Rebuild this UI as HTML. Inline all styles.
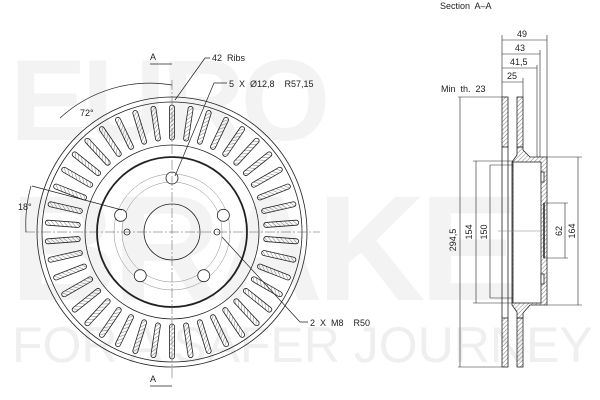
<!DOCTYPE html>
<html><head><meta charset="utf-8"><style>
html,body{margin:0;padding:0;background:#fff;width:600px;height:400px;overflow:hidden}
svg{display:block}
text{font-family:"Liberation Sans",sans-serif;fill:#222;white-space:pre}
</style></head><body>
<svg id="s" width="600" height="400" viewBox="0 0 600 400" xmlns="http://www.w3.org/2000/svg">
<defs>
<pattern id="h" width="3" height="3" patternUnits="userSpaceOnUse" patternTransform="rotate(45)">
<line x1="0" y1="0" x2="0" y2="3" stroke="#444" stroke-width="0.7"/></pattern>
</defs>
<g font-family="Liberation Sans" font-weight="bold">
<text x="10" y="140" font-size="115" style="fill:#f3f3f3;letter-spacing:-4px">EURO</text>
<text x="10" y="300" font-size="150" style="fill:#f3f3f3;letter-spacing:-6px">BRAKE</text>
<text x="12" y="362" font-size="50" font-weight="normal" style="fill:#efefef">FOR A SAFER JOURNEY</text>
</g>
<g id="disc" fill="none" stroke="#222" stroke-width="0.8">
<circle cx="172" cy="232" r="135"/>
<circle cx="172" cy="232" r="130"/>
<circle cx="172" cy="232" r="87"/>
<circle cx="172" cy="232" r="75" stroke-width="1.8"/>
<circle cx="172" cy="232" r="28"/>
<circle cx="172" cy="232" r="50" stroke="#888" stroke-width="0.5"/>
<circle cx="172" cy="232" r="58" stroke="#888" stroke-width="0.5"/>
<circle cx="127" cy="232" r="3"/>
<circle cx="217" cy="232" r="3"/>
</g>
<g id="ribs"></g>
<g id="bolts" fill="#fff" stroke="#222" stroke-width="0.8"></g>
<g stroke="#555" stroke-width="0.5" stroke-dasharray="10 2 2 2">
<line x1="172" y1="80" x2="172" y2="378"/>
<line x1="25" y1="232" x2="320" y2="232"/>
</g>
<g stroke="#222" stroke-width="0.7" fill="none">
<polyline points="175,100 205,58 210,58"/>
<polyline points="175,176 214,83 227,83"/>
<polyline points="222,237 300,322 308,322"/>
<line x1="122" y1="210" x2="32" y2="186"/>
<path d="M60,118 A133,133 0 0 1 172,85"/>
<path d="M31,186 A141,141 0 0 0 26,232"/>
<line x1="150" y1="64" x2="172" y2="64"/><line x1="150" y1="386" x2="172" y2="386"/>
</g>
<g font-size="9">
<text x="150" y="60">A</text><text x="150" y="382">A</text>
<text x="212" y="61">42  Ribs</text>
<text x="229" y="87">5  X  Ø12,8    R57,15</text>
<text x="310" y="326">2  X  M8    R50</text>
<text x="80" y="116">72°</text>
<text x="18" y="210">18°</text>
<text x="440" y="9">Section  A–A</text>
<text x="441" y="92">Min  th.  23</text>
</g>
<g stroke="#222" stroke-width="0.8">
<rect x="502" y="97" width="6" height="50" fill="url(#h)"/>
<rect x="502" y="318" width="6" height="49" fill="url(#h)"/>
<rect x="517" y="97" width="6" height="50" fill="url(#h)"/>
<rect x="517" y="318" width="6" height="49" fill="url(#h)"/>
<path d="M517,147 L523,147 L523,150 L530,157 L547,157 L547,305 L530,305 L523,313 L523,318 L517,318 L517,312 L512,305 L512,162 L517,155 Z" fill="url(#h)"/>
<rect x="513" y="162" width="28" height="141" fill="#fff"/>
<line x1="508" y1="147" x2="508" y2="318"/><line x1="502" y1="147" x2="502" y2="318"/>
<rect x="541" y="172" width="3" height="10" fill="#fff"/><rect x="541" y="274" width="3" height="10" fill="#fff"/>
<line x1="544" y1="203" x2="544" y2="258" stroke-width="1.5"/>
</g>
<g stroke="#222" stroke-width="0.6" fill="none">
<line x1="502" y1="35" x2="502" y2="97"/>
<line x1="547" y1="35" x2="547" y2="157"/>
<line x1="540" y1="50" x2="540" y2="157"/>
<line x1="537" y1="65" x2="537" y2="157"/>
<line x1="523" y1="78" x2="523" y2="97"/>
<line x1="502" y1="40" x2="547" y2="40"/>
<line x1="502" y1="54" x2="540" y2="54"/>
<line x1="502" y1="68" x2="537" y2="68"/>
<line x1="502" y1="82" x2="523" y2="82"/>
<line x1="458" y1="97" x2="502" y2="97"/><line x1="458" y1="367" x2="502" y2="367"/>
<line x1="460" y1="97" x2="460" y2="367"/>
<line x1="473" y1="161" x2="513" y2="161"/><line x1="473" y1="303" x2="513" y2="303"/>
<line x1="476" y1="161" x2="476" y2="303"/>
<line x1="490" y1="165" x2="490" y2="298"/>
<line x1="490" y1="165" x2="513" y2="165"/><line x1="490" y1="298" x2="513" y2="298"/>
<line x1="547" y1="157" x2="582" y2="157"/><line x1="547" y1="305" x2="582" y2="305"/>
<line x1="578" y1="157" x2="578" y2="305"/>
<line x1="544" y1="203" x2="568" y2="203"/><line x1="544" y1="258" x2="568" y2="258"/>
<line x1="565" y1="203" x2="565" y2="258"/>
<line x1="498" y1="231" x2="540" y2="231" stroke="#888"/>
</g>
<g font-size="9">
<text x="517" y="37">49</text><text x="515" y="51">43</text>
<text x="510" y="65">41,5</text><text x="507" y="79">25</text>
<text transform="translate(456,240) rotate(-90)" text-anchor="middle">294,5</text>
<text transform="translate(472,232) rotate(-90)" text-anchor="middle">154</text>
<text transform="translate(487,232) rotate(-90)" text-anchor="middle">150</text>
<text transform="translate(562,231) rotate(-90)" text-anchor="middle">62</text>
<text transform="translate(575,231) rotate(-90)" text-anchor="middle">164</text>
</g>
</svg>
<script>
var NS="http://www.w3.org/2000/svg",g=document.getElementById("ribs");
for(var i=0;i<42;i++){var a=i*360/42;var r=document.createElementNS(NS,"rect");
r.setAttribute("x",169.5);r.setAttribute("y",232-127);r.setAttribute("width",5);r.setAttribute("height",35);
r.setAttribute("rx",2.5);r.setAttribute("fill","url(#h)");r.setAttribute("stroke","#222");r.setAttribute("stroke-width","0.8");
r.setAttribute("transform","rotate("+a+" 172 232)");g.appendChild(r);}
var b=document.getElementById("bolts");
for(var i=0;i<5;i++){var a=(-90+i*72)*Math.PI/180;var c=document.createElementNS(NS,"circle");
c.setAttribute("cx",172+54*Math.cos(a));c.setAttribute("cy",232+54*Math.sin(a));c.setAttribute("r",6);b.appendChild(c);}
</script>
</body></html>
